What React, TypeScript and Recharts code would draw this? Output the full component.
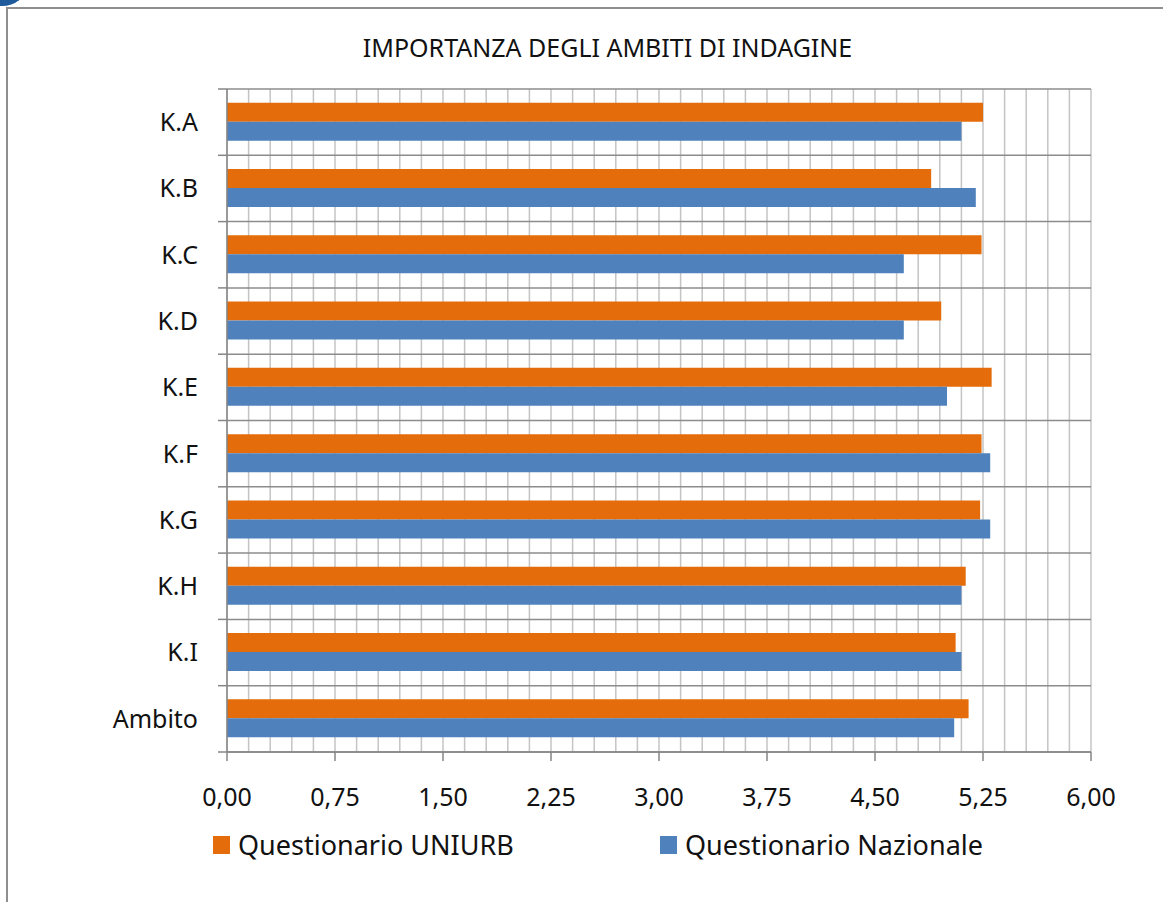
import React from 'react';
import { BarChart, Bar, XAxis, YAxis, CartesianGrid, Legend } from 'recharts';

const categories = ['K.A', 'K.B', 'K.C', 'K.D', 'K.E', 'K.F', 'K.G', 'K.H', 'K.I', 'Ambito'];
const uniurbValues = [5.25, 4.89, 5.24, 4.96, 5.31, 5.24, 5.23, 5.13, 5.06, 5.15];
const nazionaleValues = [5.1, 5.2, 4.7, 4.7, 5.0, 5.3, 5.3, 5.1, 5.1, 5.05];
const xTicks = [0, 0.75, 1.5, 2.25, 3, 3.75, 4.5, 5.25, 6];
const seriesNames = ['Questionario UNIURB', 'Questionario Nazionale'];
const seriesColors = ['#E46C0A', '#4F81BD'];
const title = 'IMPORTANZA DEGLI AMBITI DI INDAGINE';

const xMax = 6;
const minorStep = 0.15;

const data = categories.map((cat, i) => ({
  cat,
  uniurb: uniurbValues[i],
  nazionale: nazionaleValues[i],
}));

const minorTicks = Array.from({ length: Math.round(xMax / minorStep) + 1 }, (_, i) =>
  Number((i * minorStep).toFixed(2))
);

const FONT = "'Noto Sans', sans-serif";
const AXIS = '#868686';
const Y_TICK_MARGIN = 29;
const Y_TICK_LEN = 9;

const fmt = (v: number) => v.toFixed(2).replace('.', ',');

const vGen = ({ xAxis, offset }: any) => {
  if (xAxis && typeof xAxis.scale === 'function') {
    return minorTicks.map((v) => xAxis.scale(v));
  }
  return minorTicks.map((v) => offset.left + (v / xMax) * offset.width);
};

const hGen = ({ offset }: any) =>
  Array.from({ length: categories.length + 1 }, (_, i) => offset.top + (i / categories.length) * offset.height);

const CategoryTick = (props: any) => {
  const { x, y, payload, index, height, visibleTicksCount } = props;
  const n = visibleTicksCount || categories.length;
  const half = height / n / 2;
  const ax = x + Y_TICK_MARGIN;
  return (
    <g>
      <line x1={ax - Y_TICK_LEN} x2={ax} y1={y - half} y2={y - half} stroke={AXIS} strokeWidth={1.5} />
      {index === n - 1 && (
        <line x1={ax - Y_TICK_LEN} x2={ax} y1={y + half} y2={y + half} stroke={AXIS} strokeWidth={1.5} />
      )}
      <text x={x} y={y} dy="0.355em" textAnchor="end" fill="#111" fontSize={25} fontFamily={FONT}>
        {payload.value}
      </text>
    </g>
  );
};

const renderLegend = (props: any) => {
  const payload = [...(props.payload || [])].sort(
    (a: any, b: any) => seriesNames.indexOf(a.value) - seriesNames.indexOf(b.value)
  );
  return (
    <div style={{ display: 'flex', paddingLeft: 213, fontFamily: FONT }}>
      {payload.map((p: any, i: number) => (
        <div
          key={i}
          style={{
            display: 'flex',
            alignItems: 'flex-start',
            width: i === 0 ? 447 : 400,
            height: 27,
          }}
        >
          <div
            style={{
              width: 17,
              height: 18,
              marginTop: 5,
              background: p.color,
              marginRight: 8,
            }}
          />
          <span style={{ fontSize: 27, lineHeight: '27px', color: '#111', whiteSpace: 'nowrap' }}>
            {p.value}
          </span>
        </div>
      ))}
    </div>
  );
};

export default function App() {
  return (
    <div
      style={{
        position: 'absolute',
        left: 0,
        top: 0,
        width: 1163,
        height: 902,
        overflow: 'hidden',
        background: '#fff',
        fontFamily: FONT,
      }}
    >
      <div
        style={{
          position: 'absolute',
          left: -22,
          top: -34,
          width: 48,
          height: 40,
          borderRadius: '50%',
          background: '#1E5A9C',
        }}
      />
      <div
        style={{
          position: 'absolute',
          left: 6,
          top: 7,
          width: 1300,
          height: 1100,
          borderLeft: '2.5px solid #8E8E8E',
          borderTop: '2.5px solid #8E8E8E',
        }}
      />
      <div
        style={{
          position: 'absolute',
          left: 0,
          top: 35,
          width: 1215,
          textAlign: 'center',
          fontSize: 25,
          lineHeight: '25px',
          color: '#111',
          whiteSpace: 'nowrap',
        }}
      >
        {title}
      </div>
      <div style={{ position: 'absolute', left: 0, top: 0 }}>
        <BarChart
          width={1163}
          height={902}
          data={data}
          layout="vertical"
          margin={{ top: 89, right: 72, bottom: 90, left: 0 }}
          barCategoryGap="20.6%"
          barGap={0}
        >
          <CartesianGrid
            horizontal={false}
            verticalCoordinatesGenerator={vGen}
            stroke="#C4C4C4"
            strokeWidth={1.5}
          />
          <CartesianGrid
            vertical={false}
            horizontalCoordinatesGenerator={hGen}
            stroke="#8C8C8C"
            strokeWidth={1.5}
          />
          <XAxis
            type="number"
            domain={[0, xMax]}
            ticks={xTicks}
            interval={0}
            tickFormatter={fmt}
            height={60}
            tickSize={9}
            tickMargin={27}
            stroke={AXIS}
            axisLine={{ stroke: AXIS, strokeWidth: 1.5 }}
            tickLine={{ stroke: AXIS, strokeWidth: 1.5 }}
            tick={{ fill: '#111', fontSize: 25, fontFamily: FONT }}
          />
          <YAxis
            type="category"
            dataKey="cat"
            width={227}
            tickLine={false}
            tickSize={0}
            tickMargin={Y_TICK_MARGIN}
            interval={0}
            axisLine={{ stroke: AXIS, strokeWidth: 1.5 }}
            tick={<CategoryTick />}
          />
          <Legend
            layout="horizontal"
            verticalAlign="middle"
            align="center"
            content={renderLegend}
            wrapperStyle={{ position: 'absolute', top: 831, left: 0, width: 1163, height: 30 }}
          />
          <Bar
            dataKey="uniurb"
            name={seriesNames[0]}
            fill={seriesColors[0]}
            isAnimationActive={false}
          />
          <Bar
            dataKey="nazionale"
            name={seriesNames[1]}
            fill={seriesColors[1]}
            isAnimationActive={false}
          />
        </BarChart>
      </div>
    </div>
  );
}
